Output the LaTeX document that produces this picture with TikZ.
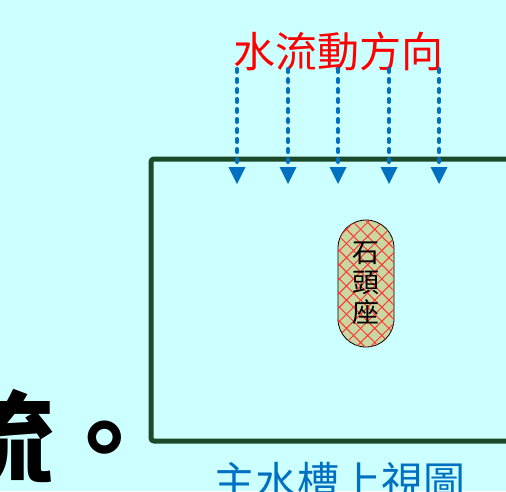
\documentclass[tikz,border=0pt]{standalone}
\usepackage{fontspec}
\newfontfamily\cjk{Noto Sans CJK TC}
\usetikzlibrary{arrows.meta,patterns.meta}
\definecolor{bgc}{HTML}{CCFFFF}
\definecolor{tank}{HTML}{1B4A2A}
\definecolor{flowblue}{HTML}{0070C0}
\definecolor{stonefill}{HTML}{C8D8A0}
\tikzset{
  flowline/.style={flowblue, line width=4pt, dash pattern=on 3pt off 7pt, line cap=round, shorten >=14pt},
  flowtip/.style={fill=flowblue, draw=none},
  tankline/.style={tank, line width=5pt, rounded corners=3pt},
  stonebox/.style={draw=black, line width=0.8pt, fill=stonefill, rounded corners=28pt,
    minimum width=56pt, minimum height=127pt, inner sep=0pt, align=center,
    postaction={pattern={Lines[angle=45,distance=10pt,line width=1pt]}, pattern color=red!80},
    postaction={pattern={Lines[angle=-45,distance=10pt,line width=1pt]}, pattern color=red!80}},
}
\begin{document}
\begin{tikzpicture}[x=1pt,y=-1pt]
\useasboundingbox (0,0) rectangle (506,491);
\clip (0,0) rectangle (506,491);
\fill[bgc] (0,0) rectangle (506,491);
% tank top view
\draw[tankline] (520,159) -- (151,159) -- (151,441) -- (520,441);
% title
\node[text=red, font=\cjk\fontsize{42}{46}\selectfont, inner sep=0pt] (title) at (338,52) {水流動方向};
% arrows
\foreach \i/\x in {1/237,2/288,3/338,4/389,5/439}{
  \coordinate (s\i) at (\x,69);
  \coordinate (e\i) at (\x,184);
  \draw[flowline] (s\i) -- (e\i);
  \fill[flowtip] (e\i) -- ++(-8.5,-17) -- ++(17,0) -- cycle;
}
% stone seat
\node[stonebox] (stone) at (366,283.5) {};
\node[font=\cjk\fontsize{27}{30}\selectfont, align=center, inner sep=0pt] (stonetext) at (stone.center) {石\\頭\\座};
% bottom caption
\node[text=flowblue, font=\cjk\fontsize{42}{46}\selectfont, anchor=west, inner sep=0pt] (caption) at (213,482) {主水槽上視圖};
% large cut text at bottom-left
\node[font=\cjk\bfseries\fontsize{100}{110}\selectfont, anchor=west, inner sep=0pt] (bigtext) at (-46,437) {流。};
\end{tikzpicture}
\end{document}
